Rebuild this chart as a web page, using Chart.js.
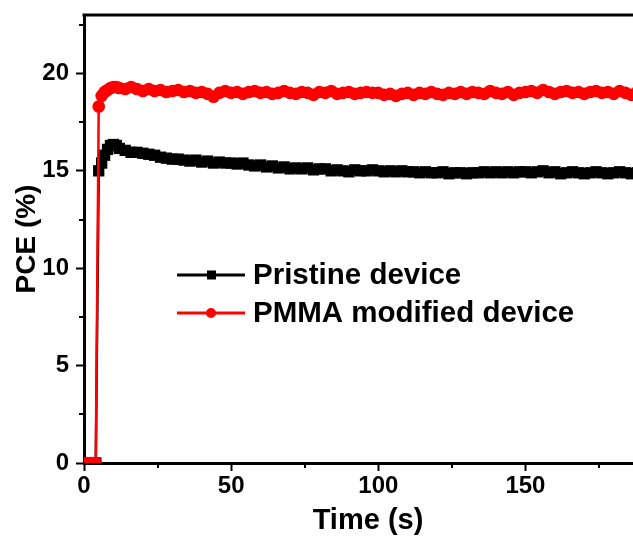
<!DOCTYPE html>
<html>
<head>
<meta charset="utf-8">
<script src="https://cdn.jsdelivr.net/npm/chart.js@4"></script>
<style>
    html, body { margin: 0; padding: 0; background: #fff; overflow: hidden; }
    .wrap { width: 680px; height: 538px; }
</style>
</head>
<body>
<div class="wrap"><canvas id="pceChart" width="680" height="538"></canvas></div>
<script>
// 时间轴 (s)
const times = [0, 1, 2, 3, 4, 5, 6, 7, 8, 9, 10, 11, 12,
    14, 16, 18, 20, 22, 24, 26, 28, 30, 32, 34, 36, 38, 40, 42, 44, 46, 48, 50,
    52, 54, 56, 58, 60, 62, 64, 66, 68, 70, 72, 74, 76, 78, 80, 82, 84, 86, 88, 90,
    92, 94, 96, 98, 100, 102, 104, 106, 108, 110, 112, 114, 116, 118, 120, 122, 124, 126, 128, 130,
    132, 134, 136, 138, 140, 142, 144, 146, 148, 150, 152, 154, 156, 158, 160, 162, 164, 166, 168, 170,
    172, 174, 176, 178, 180, 182, 184, 186, 188, 190, 192];

// 原始器件 PCE (%)
const pristine = [0, 0, 0, 0, 0, 15.0, 15.4, 15.8, 16.1, 16.3, 16.35, 16.3, 16.15,
    16.05, 15.95, 15.95, 15.9, 15.85, 15.8, 15.7, 15.65, 15.6, 15.6, 15.55, 15.5, 15.55, 15.45, 15.5, 15.4, 15.45, 15.4, 15.4,
    15.35, 15.4, 15.3, 15.25, 15.3, 15.2, 15.25, 15.15, 15.2, 15.1, 15.15, 15.1, 15.15, 15.05, 15.1, 15.1, 15.0, 15.05, 15.0, 14.95,
    15.05, 15.0, 15.0, 15.05, 15.0, 14.95, 15.0, 14.95, 15.0, 14.95, 14.95, 14.9, 14.95, 14.9, 14.9, 14.95, 14.85, 14.9, 14.9, 14.85,
    14.9, 14.9, 14.95, 14.9, 14.95, 14.9, 14.95, 14.9, 14.95, 14.95, 14.9, 14.95, 15.0, 14.9, 14.95, 14.85, 14.9, 14.95, 14.9, 14.85,
    14.9, 14.95, 14.9, 14.85, 14.9, 14.95, 14.9, 14.85, 14.9, 14.95, 14.9];

// PMMA 修饰器件 PCE (%)
const pmma = [0, 0, 0, 0, 0, 18.3, 18.85, 19.05, 19.15, 19.25, 19.3, 19.3, 19.25,
    19.2, 19.3, 19.2, 19.1, 19.2, 19.1, 19.15, 19.05, 19.1, 19.15, 19.05, 19.1, 19.0, 19.05, 18.95, 18.8, 19.0, 19.1, 19.0,
    19.05, 18.95, 19.05, 19.1, 19.0, 19.05, 18.95, 19.0, 19.1, 19.0, 18.95, 19.05, 19.0, 18.9, 19.05, 19.0, 19.1, 18.95, 19.0, 19.05,
    18.95, 19.0, 19.05, 19.0, 19.0, 18.9, 18.95, 18.85, 18.95, 19.0, 18.9, 19.0, 18.95, 19.05, 18.95, 18.9, 19.0, 18.95, 19.05, 18.95,
    19.05, 19.0, 18.95, 19.1, 19.0, 18.95, 19.05, 18.9, 19.0, 19.05, 19.1, 19.0, 19.15, 19.05, 18.95, 19.05, 19.1, 19.0, 19.05, 18.95,
    19.05, 19.1, 19.0, 19.05, 18.95, 19.1, 19.0, 18.9, 19.05, 19.0, 19.05];

// 刻度
const xTicks = [0, 50, 100, 150];
const xMinorTicks = [25, 75, 125, 175];
const yTicks = [0, 5, 10, 15, 20];
const yMinorTicks = [2.5, 7.5, 12.5, 17.5, 22.5];

const FONT = "'Liberation Sans', Arial, sans-serif";

function toPoints(ys) {
    return times.map((t, i) => ({ x: t, y: ys[i] }));
}

// 次刻度、顶部边框和图例
const extrasPlugin = {
    id: 'extras',
    afterDraw(chart) {
        const ctx = chart.ctx;
        const area = chart.chartArea;
        const xs = chart.scales.x;
        const ys = chart.scales.y;
        ctx.save();
        ctx.strokeStyle = '#000';
        ctx.lineWidth = 2;
        xMinorTicks.forEach(v => {
            const px = Math.round(xs.getPixelForValue(v));
            ctx.beginPath();
            ctx.moveTo(px, area.bottom);
            ctx.lineTo(px, area.bottom + 5);
            ctx.stroke();
        });
        yMinorTicks.forEach(v => {
            const py = Math.round(ys.getPixelForValue(v));
            ctx.beginPath();
            ctx.moveTo(area.left, py);
            ctx.lineTo(area.left - 5, py);
            ctx.stroke();
        });
        // 顶部边框
        ctx.lineWidth = 3;
        ctx.beginPath();
        ctx.moveTo(area.left - 1.5, area.top);
        ctx.lineTo(area.right, area.top);
        ctx.stroke();

        // 图例
        const rows = [chart.data.datasets[0], chart.data.datasets[1]];
        rows.forEach((ds, i) => {
            const y = 275 + i * 38;
            ctx.strokeStyle = ds.borderColor;
            ctx.fillStyle = ds.borderColor;
            ctx.lineWidth = 3;
            ctx.beginPath();
            ctx.moveTo(177, y);
            ctx.lineTo(245, y);
            ctx.stroke();
            if (ds.pointStyle === 'rect') {
                ctx.fillRect(207, y - 4.5, 9, 9);
            } else {
                ctx.beginPath();
                ctx.arc(211, y, 5, 0, Math.PI * 2);
                ctx.fill();
            }
            ctx.fillStyle = '#000';
            ctx.font = 'bold 29.5px ' + FONT;
            ctx.textBaseline = 'middle';
            ctx.fillText(ds.label, 253, y + 1);
        });
        ctx.restore();
    }
};

window.addEventListener('load', function() {
    const ctx = document.getElementById('pceChart').getContext('2d');

    new Chart(ctx, {
        type: 'line',
        data: {
            datasets: [{
                label: 'Pristine device',
                data: toPoints(pristine),
                borderColor: '#000000',
                backgroundColor: '#000000',
                borderWidth: 2.5,
                pointStyle: 'rect',
                pointRadius: 8,
                pointBorderWidth: 0,
                order: 1
            }, {
                label: 'PMMA modified device',
                data: toPoints(pmma),
                borderColor: '#ff0000',
                backgroundColor: '#ff0000',
                borderWidth: 2.5,
                pointStyle: 'circle',
                pointRadius: 6.3,
                pointBorderWidth: 0,
                order: 0
            }]
        },
        options: {
            responsive: false,
            animation: false,
            layout: { padding: { top: 15, right: 28, left: 0, bottom: 0 } },
            plugins: {
                legend: { display: false },
                tooltip: { enabled: false }
            },
            scales: {
                x: {
                    type: 'linear',
                    min: 0,
                    max: 193,
                    afterBuildTicks: s => { s.ticks = xTicks.map(v => ({ value: v })); },
                    afterFit: s => { s.height = 75; s.paddingLeft = 0; s.paddingRight = 0; },
                    border: { color: '#000', width: 3 },
                    grid: { drawOnChartArea: false, drawTicks: true, tickLength: 8, tickWidth: 2, tickColor: '#000' },
                    ticks: { color: '#000', font: { family: FONT, size: 24, weight: 'bold' }, padding: 1, maxRotation: 0 },
                    title: { display: true, text: 'Time (s)', color: '#000', font: { family: FONT, size: 29, weight: 'bold' }, padding: 0 }
                },
                y: {
                    min: 0,
                    max: 23,
                    afterBuildTicks: s => { s.ticks = yTicks.map(v => ({ value: v })); },
                    afterFit: s => { s.width = 84; s.paddingTop = 0; s.paddingBottom = 0; },
                    border: { color: '#000', width: 3 },
                    grid: { drawOnChartArea: false, drawTicks: true, tickLength: 8, tickWidth: 2, tickColor: '#000' },
                    ticks: { color: '#000', font: { family: FONT, size: 24, weight: 'bold' }, padding: 7 },
                    title: { display: true, text: 'PCE (%)', color: '#000', font: { family: FONT, size: 28, weight: 'bold' }, padding: 10 }
                }
            }
        },
        plugins: [extrasPlugin]
    });
});
</script>
</body>
</html>
